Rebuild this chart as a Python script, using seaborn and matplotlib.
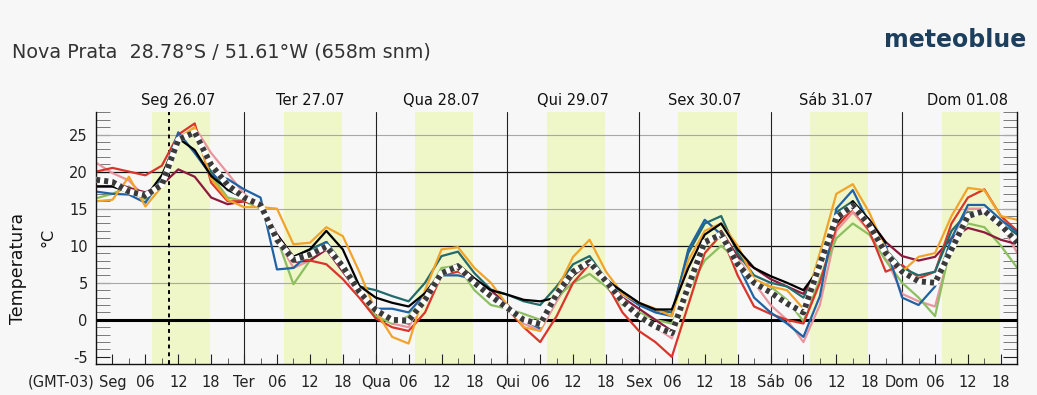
import numpy as np
import pandas as pd
import matplotlib
matplotlib.use("Agg")
import matplotlib.pyplot as plt
from matplotlib.ticker import MultipleLocator
import seaborn as sns

# ---------------- data ----------------
hours = list(range(-3, 166, 3))  # Sun 21h .. Dom 21h, local time (GMT-03)
day_names = ["Seg", "Ter", "Qua", "Qui", "Sex", "Sáb", "Dom"]
day_dates = ["26.07", "27.07", "28.07", "29.07", "30.07", "31.07", "01.08"]
nan = np.nan

t_black = [18.0,
    18.0, 17.2, 16.5, 19.5, 24.5, 22.9, 19.4, 17.6,
    16.4, 15.5, 11.5, 8.5, 9.5, 12.0, 9.5, 4.6,
    3.0, 2.3, 1.8, 3.6, 6.5, 7.5, 5.6, 4.0,
    3.4, 2.7, 2.5, 3.0, 6.0, 7.8, 5.4, 3.8,
    2.3, 1.4, 1.4, 7.0, 11.5, 13.0, 9.5, 7.0,
    5.9, 5.0, 4.0, 7.0, 13.0, 16.0, 13.5, 10.4,
    nan, nan, nan, nan, nan, nan, nan, nan]
t_blue = [17.3,
    17.0, 16.9, 15.8, 19.0, 25.3, 22.5, 19.5, 19.0,
    17.6, 16.5, 6.8, 7.0, 9.0, 10.5, 7.0, 4.0,
    1.5, 1.5, 1.0, 3.5, 6.0, 6.0, 5.5, 3.5,
    2.0, 0.0, -1.2, 3.5, 6.5, 7.5, 5.5, 3.5,
    2.0, 1.0, 0.5, 9.5, 13.5, 11.5, 7.5, 3.0,
    1.0, -0.5, -2.3, 3.2, 15.0, 17.5, 13.0, 10.0,
    3.0, 2.0, 4.5, 11.0, 15.5, 15.5, 13.5, 11.8]
t_teal = [18.0,
    18.0, 17.5, 16.5, 18.5, 24.5, 25.5, 20.0, 17.5,
    16.5, 15.5, 11.0, 8.5, 9.5, 10.5, 7.5, 4.5,
    4.0, 3.2, 2.5, 5.0, 8.6, 9.2, 6.3, 4.1,
    3.4, 2.5, 2.0, 4.5, 7.5, 8.6, 5.5, 3.8,
    2.3, 1.3, 1.0, 9.0, 13.0, 14.0, 9.0, 6.0,
    5.0, 4.5, 3.0, 7.0, 14.5, 16.0, 13.0, 9.5,
    7.0, 6.0, 6.5, 12.0, 14.5, 14.5, 13.0, 11.5]
t_green = [16.4,
    17.0, 18.0, 16.2, 18.5, 24.5, 25.8, 19.5, 16.5,
    16.0, 15.0, 11.0, 4.8, 8.0, 10.5, 7.5, 3.5,
    0.5, -0.5, 0.5, 3.0, 7.0, 7.3, 4.0, 2.0,
    1.5, 0.8, 0.0, 3.0, 5.0, 6.2, 4.5, 2.0,
    1.0, 0.0, -0.5, 4.0, 8.0, 10.0, 8.0, 5.0,
    4.5, 2.7, -0.2, 5.5, 11.0, 13.0, 11.5, 8.0,
    5.0, 3.0, 0.5, 10.5, 13.0, 12.5, 10.0, 7.0]
t_orange = [16.0,
    16.2, 19.3, 15.3, 18.0, 24.5, 26.0, 19.0, 16.2,
    15.2, 15.2, 15.0, 10.2, 10.4, 12.5, 11.3, 6.5,
    1.2, -2.3, -3.2, 4.0, 9.5, 9.8, 7.0, 5.0,
    2.0, -1.0, -1.5, 4.0, 8.5, 10.8, 6.5, 3.5,
    2.3, 1.5, 0.5, 8.0, 12.0, 13.0, 10.0, 5.5,
    4.5, 4.0, 1.5, 9.0, 17.0, 18.3, 14.5, 9.5,
    6.5, 8.5, 9.0, 14.0, 17.8, 17.5, 14.0, 13.5]
t_red = [20.0,
    20.5, 20.0, 19.5, 20.8, 25.0, 26.5, 18.5, 16.0,
    16.0, 15.5, 11.5, 8.5, 8.0, 7.5, 5.5, 3.0,
    0.2, -1.0, -1.5, 1.0, 6.0, 6.5, 5.5, 3.5,
    1.5, -1.0, -3.0, 0.5, 5.0, 7.5, 5.0, 1.0,
    -1.5, -3.0, -5.0, 2.0, 9.0, 11.5, 6.0, 1.8,
    0.8, 0.0, -0.5, 5.0, 12.5, 15.0, 12.0, 6.5,
    7.4, 5.6, 6.5, 13.0, 16.5, 17.6, 14.0, 12.0]
t_maroon = [19.0,
    18.7, 17.8, 17.2, 18.2, 20.3, 19.3, 16.5, 15.6,
    16.0, 15.5, 10.5, 7.8, 8.0, 9.5, 6.5, 3.5,
    1.0, 0.0, -0.5, 2.5, 6.5, 7.0, 5.5, 4.0,
    2.0, 0.0, -1.0, 3.0, 6.5, 7.8, 5.5, 3.0,
    1.5, 0.0, -1.5, 5.0, 10.0, 12.0, 8.5, 7.0,
    5.5, 4.5, 3.5, 7.5, 13.0, 15.5, 13.5, 10.5,
    8.6, 8.0, 8.5, 11.0, 12.4, 11.8, 10.8, 10.2]
t_pink = [21.2,
    19.8, 18.8, 16.5, 18.5, 24.0, 26.0, 22.5, 19.8,
    17.0, 15.3, 11.0, 7.0, 8.0, 9.5, 7.5, 4.0,
    1.2, -0.5, -1.0, 3.0, 6.5, 7.3, 5.5, 3.5,
    1.5, -0.5, -1.5, 2.5, 6.0, 7.5, 5.0, 2.5,
    0.5, -1.0, -2.5, 4.0, 10.0, 12.0, 8.5, 5.0,
    2.0, 0.0, -3.0, 2.0, 12.0, 14.5, 12.0, 8.5,
    3.5, 2.5, 1.8, 10.0, 15.0, 15.0, 13.0, 9.0]
t_mean = [18.9,
    18.6, 17.3, 16.8, 18.2, 24.3, 25.3, 20.9, 18.2,
    16.5, 15.5, 10.8, 8.1, 8.8, 9.9, 7.2, 3.8,
    1.3, 0.0, -0.1, 2.7, 6.3, 7.2, 5.0, 3.2,
    1.6, 0.0, -0.6, 3.5, 6.5, 7.8, 5.2, 2.5,
    0.5, -0.9, -1.8, 4.5, 10.5, 11.5, 7.5, 5.0,
    3.7, 2.2, 1.0, 7.5, 13.8, 15.4, 12.8, 9.0,
    6.5, 5.2, 5.0, 9.5, 14.0, 14.7, 12.8, 10.4]

models = {
    "pink": t_pink, "green": t_green, "maroon": t_maroon, "red": t_red,
    "teal": t_teal, "blue": t_blue, "orange": t_orange, "black": t_black,
}
palette = {
    "black": "#000000", "blue": "#1f62a5", "teal": "#236b6b", "green": "#8cbf5f",
    "orange": "#f2a42a", "red": "#d9352a", "maroon": "#8c1a3c", "pink": "#e895a0",
}

df = pd.concat([pd.DataFrame({"hour": hours, "temp": v, "model": k})
                for k, v in models.items()], ignore_index=True)

# ---------------- figure ----------------
sns.set_style("ticks")
plt.rcParams["font.family"] = ["DejaVu Sans"]
plt.rcParams["axes.unicode_minus"] = False

bg = "#f7f7f7"
fig = plt.figure(figsize=(10.37, 3.95), dpi=100, facecolor=bg)
ax = fig.add_axes([0.0926, 0.0777, 0.8884, 0.638])
ax.set_facecolor(bg)

for d in range(7):
    ax.axvspan(d * 24 + 7.2, d * 24 + 17.8, color="#eff6c8", lw=0, zorder=0)
for v in [5, 15, 25]:
    ax.axhline(v, color="#a8a8a8", lw=0.8, zorder=1)
for v in [10, 20]:
    ax.axhline(v, color="#111111", lw=0.9, zorder=1)
for d in range(1, 7):
    ax.axvline(d * 24, color="#222222", lw=0.8, zorder=1)
ax.axvline(10.3, color="black", lw=1.4, ls=(0, (2, 2)), zorder=1.5)
ax.axhline(0, color="black", lw=2.2, zorder=1.5)

sns.lineplot(data=df, x="hour", y="temp", hue="model", palette=palette,
             hue_order=list(models.keys()), linewidth=1.6, legend=False,
             ax=ax, zorder=2, solid_joinstyle="round", solid_capstyle="round")
sns.lineplot(x=hours, y=t_mean, color="white", linewidth=4.2, ax=ax, zorder=3,
             solid_joinstyle="round")
sns.lineplot(x=hours, y=t_mean, color="#3a3a3a", linewidth=4.2,
             linestyle=(0, (0.7, 0.7)), ax=ax, zorder=4)

ax.set_xlim(-3, 165)
ax.set_ylim(-6, 28)
ax.set_xlabel("")
ax.set_ylabel("")

xt = list(range(0, 166, 6))
ax.set_xticks(xt)
ax.set_xticklabels([day_names[h // 24] if h % 24 == 0 else f"{h % 24:02d}" for h in xt])
ax.xaxis.set_minor_locator(MultipleLocator(3))
ax.tick_params(axis="x", which="major", direction="in", length=7, width=0.8,
               pad=8, labelsize=10.5, colors="#222222")
ax.tick_params(axis="x", which="minor", direction="in", length=4, width=0.6,
               color="#444444")
ax.set_yticks([-5, 0, 5, 10, 15, 20, 25])
ax.yaxis.set_minor_locator(MultipleLocator(1))
ax.tick_params(axis="y", which="major", direction="in", length=10, width=0.8,
               left=True, right=True, labelsize=10.5, pad=6, colors="#222222")
ax.tick_params(axis="y", which="minor", direction="in", length=10, width=0.6,
               left=True, right=True, color="#666666")

ax.spines["top"].set_visible(False)
for s in ["left", "right", "bottom"]:
    ax.spines[s].set_color("#111111")
    ax.spines[s].set_linewidth(1.0)

for d in range(7):
    ax.text(d * 24 + 12, 1.048, f"{day_names[d]} {day_dates[d]}",
            transform=ax.get_xaxis_transform(), ha="center", va="center",
            fontsize=10.5, color="#111111")

fig.text(0.012, 0.868, "Nova Prata  28.78°S / 51.61°W (658m snm)",
         fontsize=13.8, color="#333333", va="center", ha="left")
fig.text(0.990, 0.899, "meteoblue", fontsize=17, fontweight="bold",
         color="#1d3f5e", ha="right", va="center")
fig.text(0.017, 0.321, "Temperatura", rotation=90, fontsize=12.5,
         ha="center", va="center", color="#111111")
fig.text(0.046, 0.40, "°C", rotation=90, fontsize=11.5,
         ha="center", va="center", color="#111111")
fig.text(0.0915, 0.033, "(GMT-03)", ha="right", va="center",
         fontsize=10.5, color="#222222")

fig.savefig("out.png", dpi=100, facecolor=bg)
